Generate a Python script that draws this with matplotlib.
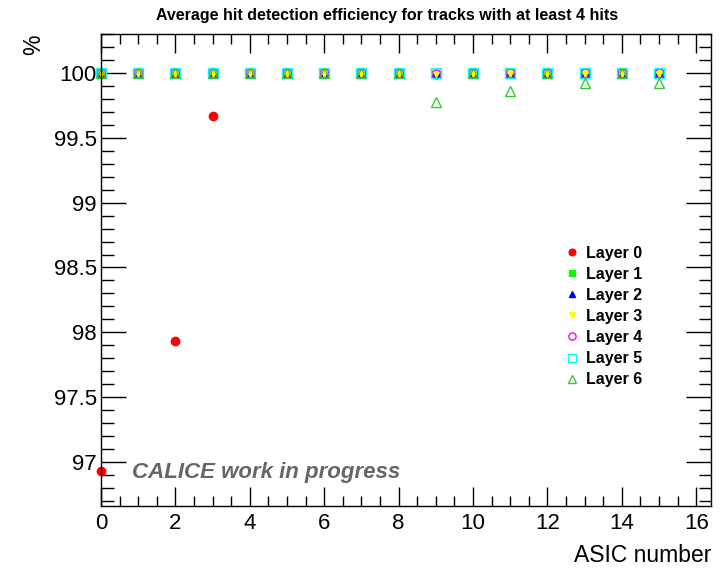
import numpy as np
import matplotlib.pyplot as plt
from matplotlib.ticker import MultipleLocator

plt.rcParams['font.family'] = ['Liberation Sans', 'DejaVu Sans']

asic = np.arange(16)

layer0 = [96.93, 100, 97.93, 99.67, 100, 100, 100, 100, 100, 100, 100, 100, 100, 100, 100, 100]
layer1 = [100]*16
layer2 = [100]*16
layer3 = [100]*16
layer4 = [100, 100, 100, 100, 100, 100, 100, 100, 100, 99.99, 100, 100, 100, 100, 100, 100]
layer5 = [100]*16
layer6 = [100, 100, 100, 100, 100, 100, 100, 100, 100, 99.78, 100, 99.86, 100, 99.92, 100, 99.92]

layers = [layer0, layer1, layer2, layer3, layer4, layer5, layer6]
names = ['Layer 0', 'Layer 1', 'Layer 2', 'Layer 3', 'Layer 4', 'Layer 5', 'Layer 6']

# marker, face colour, edge colour, size
styles = [
    ('o', '#ff0000', '#ff0000', 6),
    ('s', '#00ff00', '#00ff00', 6),
    ('^', '#0000ff', '#0000ff', 6),
    ('v', '#ffff00', '#ffff00', 6),
    ('o', 'none', '#ff00ff', 6.5),
    ('s', 'none', '#00ffff', 7.5),
    ('^', 'none', '#33cc33', 7),
]

fig = plt.figure(figsize=(7.22, 5.71), dpi=100)
ax = fig.add_axes([0.140, 0.114, 0.845, 0.826])

for vals, name, (m, fc, ec, ms) in zip(layers, names, styles):
    ax.plot(asic, vals, linestyle='none', marker=m, markersize=ms,
            markerfacecolor=fc, markeredgecolor=ec, markeredgewidth=1.0,
            label=name, clip_on=False)

ax.set_xlim(0, 16.4)
ax.set_ylim(96.66, 100.30)

ax.xaxis.set_major_locator(MultipleLocator(2))
ax.xaxis.set_minor_locator(MultipleLocator(0.5))
ax.yaxis.set_major_locator(MultipleLocator(0.5))
ax.yaxis.set_minor_locator(MultipleLocator(0.1))
ax.tick_params(which='both', direction='in', top=True, right=True, width=1.0,
               labelsize=16, color='black')
ax.tick_params(axis='x', which='major', length=14, pad=5)
ax.tick_params(axis='x', which='minor', length=7)
ax.tick_params(axis='y', which='major', length=18, pad=3)
ax.tick_params(axis='y', which='minor', length=9)
ax.yaxis.set_major_formatter(plt.FuncFormatter(lambda v, p: ('%g' % round(v, 2))))
for s in ax.spines.values():
    s.set_linewidth(1.0)

ax.set_xlabel('ASIC number', fontsize=16.5, loc='right', labelpad=7)
ax.set_ylabel('%', fontsize=16.5, loc='top', labelpad=6)

fig.text(0.536, 0.972, 'Average hit detection efficiency for tracks with at least 4 hits',
         ha='center', va='center', fontsize=11.5, fontweight='bold')

ax.text(0.05, 0.06, 'CALICE work in progress', transform=ax.transAxes,
        fontsize=16, fontweight='bold', fontstyle='italic', color='#666666')

leg = ax.legend(loc='upper left', bbox_to_anchor=(0.732, 0.582), frameon=False,
                prop={'weight': 'bold', 'size': 11.5}, handletextpad=0.3,
                labelspacing=0.38, handlelength=1.2, markerscale=0.8)

fig.savefig('out.png', dpi=100)
